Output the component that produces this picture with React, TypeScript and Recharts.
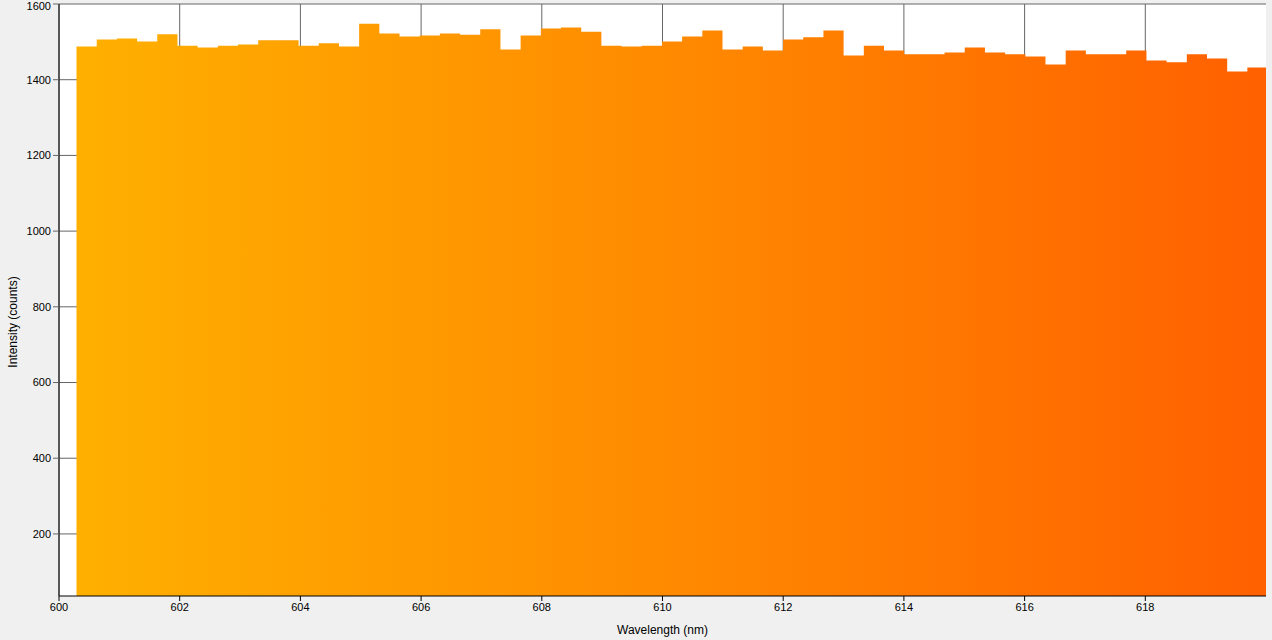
import { AreaChart, Area, XAxis, YAxis, CartesianGrid } from 'recharts';

// bin start wavelengths (nm), last entry closes the final bin
const binStart = [
  600.29, 600.625, 600.959, 601.294, 601.628, 601.963, 602.297, 602.632, 602.966, 603.301,
  603.635, 603.97, 604.304, 604.639, 604.973, 605.308, 605.642, 605.977, 606.311, 606.646,
  606.98, 607.315, 607.649, 607.984, 608.318, 608.653, 608.987, 609.322, 609.656, 609.991,
  610.325, 610.66, 610.994, 611.329, 611.663, 611.998, 612.332, 612.667, 613.001, 613.336,
  613.67, 614.005, 614.339, 614.674, 615.008, 615.343, 615.677, 616.012, 616.346, 616.681,
  617.015, 617.35, 617.684, 618.019, 618.353, 618.688, 619.022, 619.357, 619.691, 620.0,
];

const counts = [
  1488, 1506, 1509, 1501, 1520, 1490, 1485, 1490, 1493, 1504,
  1504, 1490, 1496, 1488, 1548, 1522, 1514, 1517, 1522, 1519,
  1533, 1480, 1517, 1535, 1538, 1527, 1490, 1488, 1490, 1501,
  1514, 1530, 1480, 1488, 1477, 1506, 1512, 1530, 1464, 1490,
  1477, 1467, 1467, 1472, 1485, 1472, 1467, 1461, 1440, 1477,
  1467, 1467, 1477, 1451, 1446, 1467, 1456, 1422, 1432,
];

const xTicks = [600, 602, 604, 606, 608, 610, 612, 614, 616, 618];
const yTicks = [200, 400, 600, 800, 1000, 1200, 1400, 1600];

const data = binStart.map((w, i) => ({
  wavelength: w,
  counts: i < counts.length ? counts[i] : counts[counts.length - 1],
}));

const font = { fontFamily: '"Liberation Sans", Arial, sans-serif', fontSize: 11, fill: '#000' };

export default function App() {
  return (
    <div style={{ position: 'fixed', inset: 0, background: '#f0f0f0' }}>
      <AreaChart
        width={1272}
        height={640}
        data={data}
        margin={{ top: 4, right: 6, bottom: 0, left: 0 }}
      >
        <defs>
          <linearGradient id="spectrum" x1="0" y1="0" x2="1" y2="0">
            <stop offset="0%" stopColor="#ffb000" />
            <stop offset="50%" stopColor="#ff8a00" />
            <stop offset="100%" stopColor="#ff6000" />
          </linearGradient>
        </defs>
        <CartesianGrid
          stroke="#666"
          strokeWidth={1}
          fill="#fff"
          fillOpacity={1}
          horizontalValues={yTicks}
          verticalValues={xTicks}
        />
        <XAxis
          dataKey="wavelength"
          type="number"
          domain={[600, 620]}
          ticks={xTicks}
          allowDataOverflow
          height={44}
          stroke="#000"
          tickLine={{ stroke: '#000' }}
          tickSize={5}
          tick={font}
          label={{ value: 'Wavelength (nm)', position: 'insideBottom', offset: 6, style: { ...font, fontSize: 12 } }}
        />
        <YAxis
          type="number"
          domain={[36, 1600]}
          ticks={yTicks}
          allowDataOverflow
          width={59}
          stroke="#000"
          tickLine={{ stroke: '#666' }}
          tickSize={6}
          tick={font}
          label={{
            content: () => (
              <text x={14} y={322} transform="rotate(-90 14 322)" textAnchor="middle" dominantBaseline="middle" style={{ ...font, fontSize: 12 }}>
                Intensity (counts)
              </text>
            ),
          }}
        />
        <Area
          type="stepAfter"
          dataKey="counts"
          stroke="none"
          fill="url(#spectrum)"
          fillOpacity={1}
          isAnimationActive={false}
          dot={false}
          activeDot={false}
        />
      </AreaChart>
    </div>
  );
}
